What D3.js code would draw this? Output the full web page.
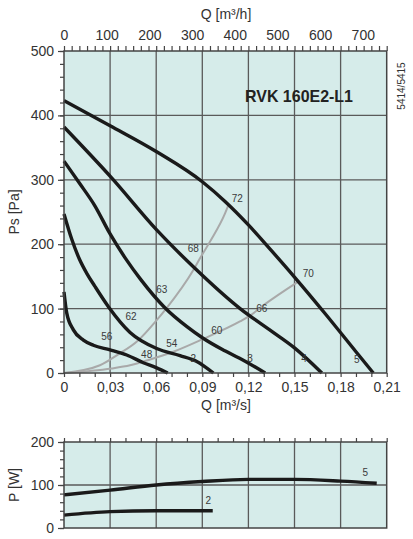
<!DOCTYPE html>
<html>
<head>
<meta charset="utf-8">
<script src="https://cdn.jsdelivr.net/npm/d3@7"></script>
<style>
  body { margin: 0; background: #fff; }
  text { font-family: "Liberation Sans", Arial, sans-serif; fill: #333; }
</style>
</head>
<body>
<div id="vis"></div>
<script>

// axis ticks
var qTicks = [0, 0.03, 0.06, 0.09, 0.12, 0.15, 0.18, 0.21];
var qLabels = ['0', '0,03', '0,06', '0,09', '0,12', '0,15', '0,18', '0,21'];
var qhTicks = [0, 100, 200, 300, 400, 500, 600, 700];
var psTicks = [0, 100, 200, 300, 400, 500];
var pwTicks = [0, 100, 200];

// fan curves, [Q m3/s, Ps Pa]
var fan1 = [[0, 126], [0.0018, 93], [0.0061, 67], [0.0126, 51], [0.0191, 43], [0.030, 36],
  [0.0408, 28], [0.0516, 16], [0.0603, 8], [0.0675, 0]];
var fan2 = [[0, 247], [0.005, 208], [0.01, 177], [0.015, 154], [0.02, 135], [0.0289, 103],
  [0.043, 63], [0.0603, 38], [0.0755, 27], [0.0864, 18], [0.0972, 0]];
var fan3 = [[0, 329], [0.01, 295], [0.02, 260], [0.03, 216], [0.04, 178], [0.05, 145],
  [0.0658, 101], [0.08, 72], [0.0905, 54], [0.105, 34], [0.1196, 16], [0.1309, 0]];
var fan4 = [[0, 382], [0.031, 303], [0.06, 223], [0.085, 163], [0.1146, 100], [0.135, 65],
  [0.150, 39], [0.1678, 0]];
var fan5 = [[0, 423], [0.03, 384], [0.06, 344], [0.09, 297], [0.105, 266], [0.12, 230],
  [0.135, 190], [0.15, 149], [0.17, 92], [0.19, 33], [0.2013, 0]];

// system curves
var sysUpper = [[0, 0], [0.0234, 12], [0.0353, 29], [0.0484, 51], [0.0603, 82], [0.0665, 100],
  [0.0842, 160], [0.0885, 178], [0.095, 204], [0.1048, 248], [0.107, 261]];
var sysLower = [[0, 0], [0.031, 7], [0.043, 12], [0.056, 21], [0.0711, 33], [0.0906, 53],
  [0.1145, 80], [0.121, 89], [0.1297, 105], [0.1525, 142]];

// power curves, [Q m3/s, P W]
var power2 = [[0, 30], [0.030, 38], [0.060, 40], [0.090, 40], [0.0968, 40]];
var power5 = [[0, 77], [0.030, 88], [0.060, 100], [0.090, 108], [0.120, 113], [0.150, 113],
  [0.180, 109], [0.2035, 104]];

// curve labels
var soundLabels = [
  ['72', 0.1128, 271], ['68', 0.0841, 193], ['63', 0.0636, 129], ['62', 0.0436, 87], ['56', 0.0278, 56],
  ['70', 0.159, 155], ['66', 0.1287, 100], ['60', 0.0994, 66], ['54', 0.0701, 46], ['48', 0.0538, 28]
];
var speedLabels = [['2', 0.0841, 23], ['3', 0.121, 23], ['4', 0.1562, 23], ['5', 0.1905, 21]];
var powerLabels = [['5', 0.196, 130], ['2', 0.0939, 63]];

var width = 413;
var height = 539;
var bg = '#d6ecea';
var gridColor = '#5a5a5a';
var axisColor = '#444';

var x = d3.scaleLinear().domain([0, 0.21]).range([64, 386.7]);
var xh = d3.scaleLinear().domain([0, 0.21 * 3600]).range([64, 386.7]);
var y = d3.scaleLinear().domain([0, 500]).range([373, 51]);
var yP = d3.scaleLinear().domain([0, 200]).range([528, 442]);

var svg = d3.select('#vis').append('svg')
  .attr('width', width)
  .attr('height', height);

function styleAxis(g, size) {
  g.select('.domain').remove();
  g.selectAll('line').attr('stroke', axisColor).attr('stroke-width', 1.2);
  g.selectAll('text').attr('font-size', size).attr('fill', '#333')
    .attr('font-family', '"Liberation Sans", Arial, sans-serif');
}

function panel(yScale, hTicks) {
  var x0 = x.range()[0], x1 = x.range()[1];
  var y0 = yScale.range()[1], y1 = yScale.range()[0];
  svg.append('rect')
    .attr('x', x0).attr('y', y0)
    .attr('width', x1 - x0).attr('height', y1 - y0)
    .attr('fill', bg);

  svg.append('g').selectAll('line')
    .data(qTicks.slice(1, -1))
    .enter().append('line')
    .attr('x1', function(d) { return x(d); })
    .attr('x2', function(d) { return x(d); })
    .attr('y1', y0).attr('y2', y1)
    .attr('stroke', gridColor).attr('stroke-width', 1.3);

  svg.append('g').selectAll('line')
    .data(hTicks)
    .enter().append('line')
    .attr('x1', x0).attr('x2', x1)
    .attr('y1', function(d) { return yScale(d); })
    .attr('y2', function(d) { return yScale(d); })
    .attr('stroke', gridColor).attr('stroke-width', 1.3);
}

function border(yScale) {
  var x0 = x.range()[0], x1 = x.range()[1];
  var y0 = yScale.range()[1], y1 = yScale.range()[0];
  svg.append('rect')
    .attr('x', x0).attr('y', y0)
    .attr('width', x1 - x0).attr('height', y1 - y0)
    .attr('fill', 'none')
    .attr('stroke', axisColor).attr('stroke-width', 1.5);
}

panel(y, [100, 200, 300, 400]);
panel(yP, [100]);

var line = d3.line()
  .x(function(d) { return x(d[0]); })
  .y(function(d) { return y(d[1]); })
  .curve(d3.curveMonotoneX);

var lineP = d3.line()
  .x(function(d) { return x(d[0]); })
  .y(function(d) { return yP(d[1]); })
  .curve(d3.curveMonotoneX);

// system curves
svg.selectAll('.sys')
  .data([sysUpper, sysLower])
  .enter().append('path')
  .attr('class', 'sys')
  .attr('d', line)
  .attr('fill', 'none')
  .attr('stroke', '#a9a9a9')
  .attr('stroke-width', 2);

// fan curves
svg.selectAll('.fan')
  .data([fan1, fan2, fan3, fan4, fan5])
  .enter().append('path')
  .attr('class', 'fan')
  .attr('d', line)
  .attr('fill', 'none')
  .attr('stroke', '#1a1a1a')
  .attr('stroke-width', 3.4)
  .attr('stroke-linecap', 'butt');

svg.selectAll('.pw')
  .data([power2, power5])
  .enter().append('path')
  .attr('class', 'pw')
  .attr('d', lineP)
  .attr('fill', 'none')
  .attr('stroke', '#1a1a1a')
  .attr('stroke-width', 3.4);

svg.append('g').selectAll('text')
  .data(soundLabels.concat(speedLabels))
  .enter().append('text')
  .attr('x', function(d) { return x(d[1]); })
  .attr('y', function(d) { return y(d[2]); })
  .attr('dy', '0.35em')
  .attr('text-anchor', 'middle')
  .attr('font-size', 10)
  .style('fill', '#3a3a3a')
  .text(function(d) { return d[0]; });

svg.append('g').selectAll('text')
  .data(powerLabels)
  .enter().append('text')
  .attr('x', function(d) { return x(d[1]); })
  .attr('y', function(d) { return yP(d[2]); })
  .attr('dy', '0.35em')
  .attr('text-anchor', 'middle')
  .attr('font-size', 10)
  .style('fill', '#3a3a3a')
  .text(function(d) { return d[0]; });

border(y);
border(yP);

// main chart axes
svg.append('g').attr('transform', 'translate(64,0)')
  .call(d3.axisLeft(y).tickValues(d3.range(0, 26).map(function(i) { return i * 20; }))
    .tickSize(4).tickFormat(''))
  .call(styleAxis, 14);
svg.append('g').attr('transform', 'translate(64,0)')
  .call(d3.axisLeft(y).tickValues(psTicks).tickSize(6).tickPadding(4))
  .call(styleAxis, 14);

svg.append('g').attr('transform', 'translate(0,373)')
  .call(d3.axisBottom(x).tickValues(d3.range(0, 22).map(function(i) { return i * 0.01; }))
    .tickSize(4).tickPadding(5)
    .tickFormat(function(d, i) { return i % 3 === 0 ? qLabels[i / 3] : ''; }))
  .call(styleAxis, 14);

svg.append('g').attr('transform', 'translate(0,51)')
  .call(d3.axisTop(x).tickValues(d3.range(0, 43).map(function(i) { return i * 0.005; }))
    .tickSize(5).tickFormat(''))
  .call(styleAxis, 14);
svg.append('g').attr('transform', 'translate(0,51)')
  .call(d3.axisTop(xh).tickValues(qhTicks).tickSize(0).tickPadding(11))
  .call(styleAxis, 14);

// power chart axes
svg.append('g').attr('transform', 'translate(64,0)')
  .call(d3.axisLeft(yP).tickValues(d3.range(0, 11).map(function(i) { return i * 20; }))
    .tickSize(4).tickFormat(''))
  .call(styleAxis, 14);
svg.append('g').attr('transform', 'translate(64,0)')
  .call(d3.axisLeft(yP).tickValues(pwTicks).tickSize(6).tickPadding(4))
  .call(styleAxis, 14);
svg.append('g').attr('transform', 'translate(0,442)')
  .call(d3.axisTop(x).tickValues(d3.range(0, 22).map(function(i) { return i * 0.01; }))
    .tickSize(4).tickFormat(''))
  .call(styleAxis, 14);

// titles
svg.append('text').attr('x', 226).attr('y', 19)
  .attr('text-anchor', 'middle').attr('font-size', 14)
  .text('Q [m³/h]');
svg.append('text').attr('x', 226).attr('y', 410)
  .attr('text-anchor', 'middle').attr('font-size', 14)
  .text('Q [m³/s]');
svg.append('text').attr('transform', 'translate(19,212) rotate(-90)')
  .attr('text-anchor', 'middle').attr('font-size', 14)
  .text('Ps [Pa]');
svg.append('text').attr('transform', 'translate(18.5,485) rotate(-90)')
  .attr('text-anchor', 'middle').attr('font-size', 14)
  .text('P [W]');
svg.append('text').attr('transform', 'translate(405,86) rotate(-90)')
  .attr('text-anchor', 'middle').attr('font-size', 10)
  .text('5414/5415');
svg.append('text').attr('x', 245).attr('y', 101.5)
  .attr('font-size', 17).attr('font-weight', 'bold')
  .attr('textLength', 108).attr('lengthAdjust', 'spacingAndGlyphs')
  .style('fill', '#222')
  .text('RVK 160E2-L1');

</script>
</body>
</html>
